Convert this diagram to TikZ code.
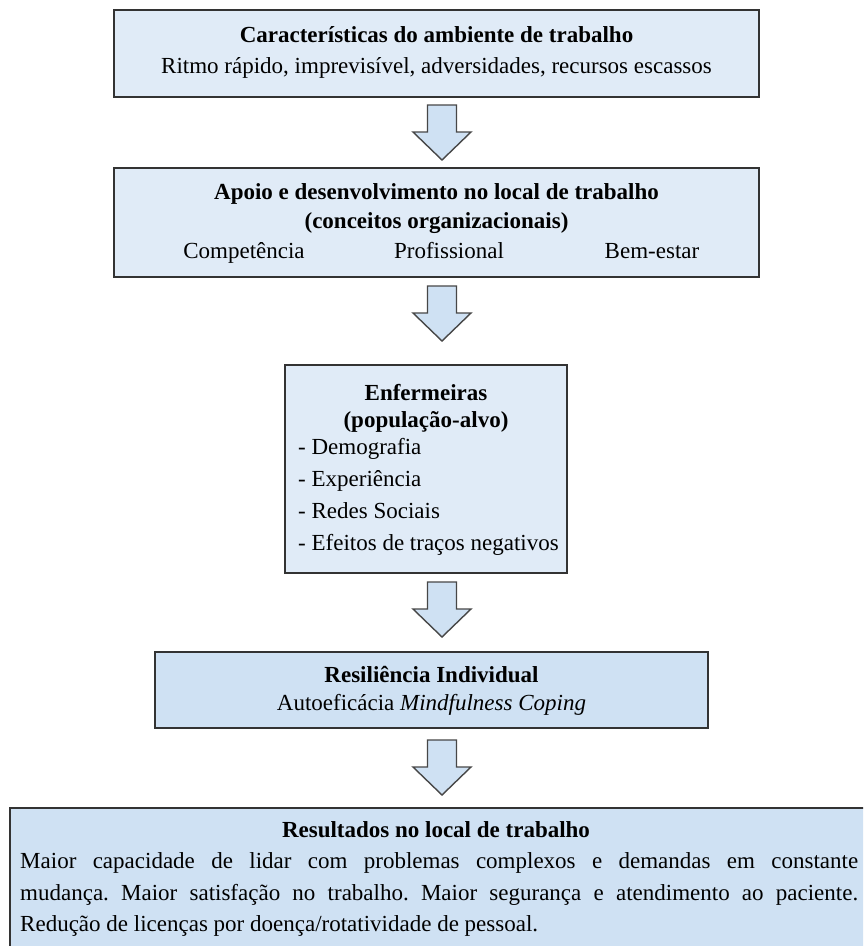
\documentclass[tikz,border=0pt]{standalone}
\usepackage{fontspec}
\setmainfont{Liberation Serif}
\frenchspacing
\definecolor{lightfill}{HTML}{E0EBF7}
\definecolor{midfill}{HTML}{CFE1F3}
\definecolor{edge}{HTML}{333333}
\tikzset{
  box/.style={draw=edge, line width=2pt},
  txt/.style={font=\fontsize{23}{30}\selectfont, inner sep=0pt, anchor=base},
  btxt/.style={txt, font=\fontsize{23}{30}\selectfont\bfseries},
  blockarrow/.pic={
    \draw[draw=edge!90, line width=1.4pt, fill=midfill, line join=miter]
      (-14.5,0) -- (14.5,0) -- (14.5,27) -- (29,27) -- (0,55) -- (-29,27) -- (-14.5,27) -- cycle;
  }
}
\begin{document}
\begin{tikzpicture}[x=1pt,y=-1pt]
\clip (0,0) rectangle (863,946);
\fill[white] (0,0) rectangle (863,946);

% Box 1
\draw[box, fill=lightfill] (114,10) rectangle (759,97);
\node[btxt] (t1) at (436.5,42) {Características do ambiente de trabalho};
\node[txt] (s1) at (436.5,73) {Ritmo rápido, imprevisível, adversidades, recursos escassos};

% Box 2
\draw[box, fill=lightfill] (114,168) rectangle (759,277);
\node[btxt] (t2) at (436.5,199) {Apoio e desenvolvimento no local de trabalho};
\node[btxt] (t2b) at (436.5,228) {(conceitos organizacionais)};
\node[txt] (c1) at (244,258) {Competência};
\node[txt] (c2) at (449,258) {Profissional};
\node[txt] (c3) at (652,258) {Bem-estar};

% Box 3
\draw[box, fill=lightfill] (285,365) rectangle (567,573);
\node[btxt] (t3) at (426,400) {Enfermeiras};
\node[btxt] (t3b) at (426,427) {(população-alvo)};
\node[txt, anchor=base west] (i1) at (298,454) {- Demografia};
\node[txt, anchor=base west] (i2) at (298,486) {- Experiência};
\node[txt, anchor=base west] (i3) at (298,518) {- Redes Sociais};
\node[txt, anchor=base west] (i4) at (298,550) {- Efeitos de traços negativos};

% Box 4
\draw[box, fill=midfill] (155,652) rectangle (708,728);
\node[btxt] (t4) at (431.5,682) {Resiliência Individual};
\node[txt] (s4) at (431.5,710) {Autoeficácia \textit{Mindfulness Coping}};

% Box 5
\draw[box, fill=midfill] (10,808) rectangle (868,960);
\node[btxt] (t5) at (436,837) {Resultados no local de trabalho};
\node[txt, anchor=base west] (l1) at (20,868)
  {\makebox[838pt][s]{Maior capacidade de lidar com problemas complexos e demandas em constante}};
\node[txt, anchor=base west] (l2) at (20,900)
  {\makebox[838pt][s]{mudança. Maior satisfação no trabalho. Maior segurança e atendimento ao paciente.}};
\node[txt, anchor=base west] (l3) at (20,931)
  {Redução de licenças por doença/rotatividade de pessoal.};

% Block arrows between boxes
\pic at (442,105) {blockarrow};
\pic at (442,286) {blockarrow};
\pic at (442,582) {blockarrow};
\pic at (442,740) {blockarrow};
\end{tikzpicture}
\end{document}
